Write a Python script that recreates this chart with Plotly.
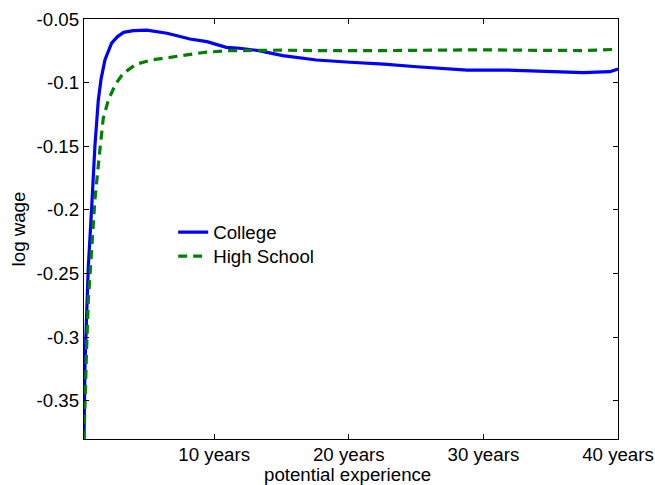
import plotly.graph_objects as go

college_x = [0.33, 0.40, 0.52, 0.65, 0.89, 1.14, 1.39, 1.60, 1.89, 2.38, 2.80, 3.27, 4.0, 5.0, 6.5,
             8.2, 9.46, 10.9, 11.9, 13.3, 15.1, 17.6, 20.1, 22.6, 25.05, 27.5, 28.8, 31.7, 33.7,
             36.2, 37.4, 39.4, 40.0]
college_y = [-0.38, -0.323, -0.284, -0.245, -0.200, -0.150, -0.114, -0.097, -0.082, -0.069, -0.064,
             -0.0605, -0.0592, -0.0587, -0.0612, -0.0657, -0.0678, -0.0723, -0.0730, -0.0748,
             -0.0788, -0.0822, -0.0840, -0.0854, -0.0875, -0.0888, -0.0901, -0.0901, -0.0909,
             -0.0920, -0.0922, -0.0914, -0.0893]

hs_x = [0.33, 0.40, 0.52, 0.65, 0.89, 1.14, 1.51, 1.76, 2.13, 2.63, 3.24, 4.23, 5.35, 6.58, 7.82,
        9.3, 11.0, 12.8, 15.0, 17.5, 20.0, 22.5, 25.0, 27.5, 30.0, 32.5, 35.0, 37.5, 40.0]
hs_y = [-0.38, -0.349, -0.310, -0.271, -0.232, -0.192, -0.153, -0.128, -0.114, -0.102, -0.0927,
        -0.0854, -0.0822, -0.0804, -0.0783, -0.0762, -0.0749, -0.0745, -0.0745, -0.0748, -0.0750,
        -0.0748, -0.0746, -0.0743, -0.0742, -0.0745, -0.0746, -0.0748, -0.0738]

x_tickvals = [10, 20, 30, 40]
x_ticktext = ["10 years", "20 years", "30 years", "40 years"]
y_tickvals = [-0.35, -0.3, -0.25, -0.2, -0.15, -0.1, -0.05]
y_ticktext = ["-0.35", "-0.3", "-0.25", "-0.2", "-0.15", "-0.1", "-0.05"]

FS = 18.7

fig = go.Figure()
fig.add_trace(go.Scatter(x=college_x, y=college_y, mode="lines", name="College",
                         line=dict(color="#0000FF", width=3.2), legend="legend"))
fig.add_trace(go.Scatter(x=hs_x, y=hs_y, mode="lines", name="High School",
                         line=dict(color="#008000", width=3.2, dash="9px,6px"), legend="legend2"))

axis_common = dict(showline=True, linecolor="#000000", linewidth=1.2, mirror="allticks",
                   ticks="inside", ticklen=5, tickwidth=1, tickcolor="#000000", showgrid=False,
                   zeroline=False, automargin=False, tickfont=dict(size=FS, color="black"))

leg_common = dict(xanchor="left", yanchor="middle", bgcolor="rgba(0,0,0,0)",
                  font=dict(size=FS), borderwidth=0)

fig.update_layout(
    width=655, height=485,
    margin=dict(l=84, r=37, t=19, b=46),
    paper_bgcolor="white", plot_bgcolor="white",
    font=dict(family="Liberation Sans, Arial, sans-serif", size=FS, color="black"),
    xaxis=dict(range=[0.33, 40], tickvals=x_tickvals, ticktext=x_ticktext,
               ticklabelstandoff=-2, **axis_common),
    yaxis=dict(range=[-0.38, -0.05], tickvals=y_tickvals, ticktext=y_ticktext,
               title=dict(text="log wage", standoff=6, font=dict(size=FS)),
               **axis_common),
    legend=dict(x=0.167, y=(439 - 232.5) / 420, **leg_common),
    legend2=dict(x=0.167, y=(439 - 256.5) / 420, **leg_common),
    showlegend=True,
    annotations=[dict(text="potential experience", xref="paper", yref="paper",
                      x=(347 - 84) / 534, y=(439 - 475) / 420, xanchor="center",
                      yanchor="middle", showarrow=False, font=dict(size=FS))],
)

fig.write_html("out.html")
